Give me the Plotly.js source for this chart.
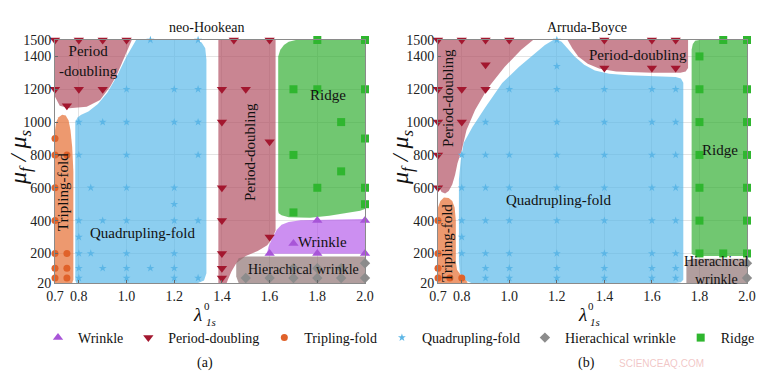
<!DOCTYPE html>
<html>
<head>
<meta charset="utf-8">
<script src="https://cdn.plot.ly/plotly-3.0.1.min.js"></script>
<style>html,body{margin:0;padding:0;background:#fff;}#chart{width:760px;height:381px;}</style>
</head>
<body>
<div id="chart"></div>
<script>
// ---------- axes ----------
const xTicks = [0.7, 0.8, 1.0, 1.2, 1.4, 1.6, 1.8, 2.0];
const xTickText = ['0.7', '0.8', '1.0', '1.2', '1.4', '1.6', '1.8', '2.0'];
const yTicks = [20, 200, 400, 600, 800, 1000, 1200, 1400, 1500];
const seriesNames = ['Wrinkle', 'Period-doubling', 'Tripling-fold', 'Quadrupling-fold', 'Hierachical wrinkle', 'Ridge'];
const panelTitles = ['neo-Hookean', 'Arruda-Boyce'];

// ---------- panel (a) neo-Hookean : markers ----------
const aWrinkleX = [1.6, 1.7, 1.8, 1.8, 2.0, 2.0];
const aWrinkleY = [200, 260, 400, 200, 400, 200];
const aPeriodX = [0.7, 0.8, 0.9, 1.0, 0.7, 0.8, 0.9, 0.75, 1.45, 1.6, 1.4, 1.5, 1.4, 1.6, 1.4, 1.4, 1.6, 1.4, 1.4, 1.4];
const aPeriodY = [1500, 1500, 1500, 1500, 1200, 1200, 1200, 1100, 1500, 1500, 1200, 1200, 1000, 880, 600, 400, 300, 200, 110, 50];
const aTriplingX = [0.7, 0.7, 0.75, 0.7, 0.7, 0.7, 0.75, 0.7, 0.75, 0.7, 0.75];
const aTriplingY = [900, 800, 800, 600, 400, 200, 200, 110, 110, 50, 50];
const aQuadX = [1.1, 1.3, 1.0, 1.2, 1.3, 0.8, 0.9, 1.0, 1.2, 1.3, 0.8, 1.0, 1.3, 0.85, 1.0, 1.2, 1.2,
                0.8, 0.9, 1.0, 1.2, 1.3, 0.8, 0.8, 0.85, 1.0, 1.2, 0.8, 0.9, 1.0, 1.1, 1.2, 0.8, 1.0, 1.2, 1.3];
const aQuadY = [1500, 1500, 1200, 1200, 1200, 1000, 1000, 1000, 1000, 1000, 800, 800, 800, 600, 600, 600, 500,
                400, 400, 400, 400, 400, 300, 200, 200, 200, 200, 110, 110, 110, 110, 110, 50, 50, 50, 50];
const aHierX = [1.5, 1.6, 1.7, 1.8, 1.9, 2.0, 1.7, 1.8, 1.9, 2.0];
const aHierY = [50, 50, 50, 50, 50, 50, 110, 110, 110, 140];
const aRidgeX = [1.8, 2.0, 1.7, 1.8, 2.0, 1.9, 2.0, 1.7, 1.9, 1.8, 2.0, 2.0, 1.7];
const aRidgeY = [1500, 1500, 1200, 1200, 1200, 1000, 900, 800, 700, 600, 600, 500, 450];

// ---------- panel (a) : region outlines (data units) ----------
const aRegPD1X = [0.7, 1.022, 0.986, 0.959, 0.931, 0.889, 0.833, 0.76, 0.72, 0.7];
const aRegPD1Y = [1500, 1500, 1378, 1287, 1216, 1135, 1094, 1084, 1100, 1155];
const aRegQX = [0.79, 0.785, 0.785, 0.795, 0.81, 0.84, 0.88, 0.92, 0.96, 1.0, 1.04, 1.29, 1.315, 1.33, 1.335, 1.335, 1.325, 1.3];
const aRegQY = [20, 35, 1000, 1030, 1045, 1065, 1110, 1180, 1280, 1400, 1500, 1500, 1485, 1450, 1380, 80, 35, 20];
const aRegTX = [0.7, 0.7, 0.705, 0.715, 0.73, 0.745, 0.757, 0.765, 0.772, 0.777, 0.777, 0.772];
const aRegTY = [20, 950, 1000, 1030, 1045, 1040, 1010, 950, 850, 700, 40, 20];
const aRegPD2X = [1.385, 1.385, 1.625, 1.625, 1.61, 1.59, 1.55, 1.5, 1.46, 1.44, 1.425, 1.42];
const aRegPD2Y = [20, 1500, 1500, 340, 290, 250, 215, 185, 140, 90, 40, 20];
const aRegRX = [1.636, 1.636, 1.645, 1.66, 1.68, 1.71, 2.0, 2.0, 1.98, 1.92, 1.85, 1.77, 1.68, 1.65, 1.638];
const aRegRY = [460, 1400, 1440, 1470, 1490, 1500, 1500, 470, 460, 445, 430, 418, 420, 432, 445];
const aRegWX = [1.59, 1.595, 1.61, 1.63, 1.65, 1.68, 1.73, 2.0, 2.0, 1.62];
const aRegWY = [205, 240, 290, 345, 375, 392, 402, 410, 198, 198];
const aRegHX = [1.47, 1.46, 1.46, 1.47, 1.5, 2.0, 2.0];
const aRegHY = [20, 60, 140, 170, 182, 182, 20];

// ---------- panel (b) Arruda-Boyce : markers ----------
const bWrinkleX = [];
const bWrinkleY = [];
const bPeriodX = [0.7, 0.8, 0.9, 1.0, 0.9, 0.7, 0.8, 0.9, 0.7, 0.8, 0.7, 0.7, 1.4, 1.6, 1.7, 1.4, 1.6, 1.7];
const bPeriodY = [1500, 1500, 1500, 1500, 1350, 1200, 1200, 1200, 1000, 1000, 800, 600, 1500, 1500, 1500, 1330, 1330, 1330];
const bTriplingX = [0.7, 0.7, 0.7, 0.7, 0.75, 0.8];
const bTriplingY = [400, 200, 110, 50, 50, 50];
const bQuadX = [1.2, 1.2,
                1.0, 1.2, 1.4, 1.6, 1.7,
                0.9, 1.2, 1.4, 1.6, 1.7,
                0.8, 0.9, 1.0, 1.2, 1.4, 1.6, 1.7,
                0.8, 0.9, 1.0, 1.2, 1.4, 1.6, 1.7,
                0.8, 0.9, 1.0, 1.2, 1.4, 1.6, 1.7,
                0.8,
                0.8, 0.9, 1.0, 1.2, 1.4, 1.6, 1.7,
                0.9, 1.0, 1.2, 1.4, 1.6, 1.7,
                0.9, 1.0, 1.2, 1.4, 1.6, 1.7];
const bQuadY = [1500, 1340,
                1200, 1200, 1200, 1200, 1200,
                1000, 1000, 1000, 1000, 1000,
                800, 800, 800, 800, 800, 800, 800,
                600, 600, 600, 600, 600, 600, 600,
                400, 400, 400, 400, 400, 400, 400,
                300,
                200, 200, 200, 200, 200, 200, 200,
                110, 110, 110, 110, 110, 110,
                50, 50, 50, 50, 50, 50];
const bHierX = [2.0, 2.0];
const bHierY = [140, 50];
const bRidgeX = [1.9, 2.0, 1.8, 1.8, 2.0, 1.8, 2.0, 1.8, 2.0, 1.8, 2.0, 1.8, 2.0, 1.8, 1.9, 2.0];
const bRidgeY = [1500, 1500, 1400, 1200, 1200, 1000, 1000, 800, 800, 600, 600, 400, 400, 200, 200, 200];

// ---------- panel (b) : region outlines ----------
const bRegPD1X = [0.7, 1.1, 1.05, 0.98, 0.91, 0.856, 0.82, 0.8, 0.782, 0.772, 0.76, 0.745, 0.73, 0.715, 0.705, 0.7];
const bRegPD1Y = [1500, 1500, 1440, 1336, 1208, 1074, 952, 830, 750, 680, 620, 580, 565, 575, 600, 620];
const bRegQX = [0.84, 0.81, 0.792, 0.788, 0.788, 0.796, 0.808, 0.845, 0.9, 0.97, 1.04, 1.11, 1.15, 1.185, 1.205, 1.22, 1.245, 1.275, 1.315, 1.36, 1.42, 1.5, 1.7, 1.722, 1.732, 1.732, 1.722, 1.7];
const bRegQY = [20, 40, 80, 150, 650, 770, 873, 970, 1092, 1238, 1336, 1420, 1470, 1500, 1500, 1490, 1450, 1400, 1350, 1315, 1295, 1285, 1275, 1265, 1240, 40, 25, 20];
const bRegPD2X = [1.245, 1.752, 1.752, 1.742, 1.72, 1.6, 1.45, 1.38, 1.33, 1.29, 1.265];
const bRegPD2Y = [1500, 1500, 1330, 1308, 1300, 1300, 1308, 1325, 1355, 1400, 1450];
const bRegTX = [0.7, 0.7, 0.71, 0.725, 0.745, 0.76, 0.77, 0.775, 0.775, 0.78, 0.795, 0.815, 0.825, 0.82];
const bRegTY = [20, 480, 520, 540, 538, 520, 480, 400, 150, 100, 70, 40, 25, 20];
const bRegRX = [1.767, 1.767, 1.772, 1.782, 1.8, 2.0, 2.0, 1.79, 1.772];
const bRegRY = [200, 1440, 1475, 1495, 1500, 1500, 185, 185, 192];
const bRegHX = [1.745, 1.745, 1.755, 1.77, 2.0, 2.0];
const bRegHY = [20, 145, 160, 167, 167, 20];

// ---------- styles ----------
const fillCol = {
  pd: 'rgba(175,75,95,0.68)', quad: 'rgba(80,180,232,0.66)', trip: 'rgba(230,110,50,0.7)',
  ridge: 'rgba(40,170,40,0.66)', wrinkle: 'rgba(180,90,235,0.68)', hier: 'rgba(140,112,112,0.68)'
};
const markCol = {
  wrinkle: '#a855d8', pd: '#a3172f', trip: '#e0622a', quad: '#5cb6e6', hier: '#8c8c8c', ridge: '#2fb62f'
};
const FONT = 'Liberation Serif, Times New Roman, serif';

function region(x, y, color, ax) {
  return { x: x, y: y, xaxis: ax[0], yaxis: ax[1], type: 'scatter', mode: 'lines', fill: 'toself',
    fillcolor: color, line: { width: 0, color: 'rgba(0,0,0,0)' }, showlegend: false, hoverinfo: 'skip' };
}
function pts(x, y, name, symbol, color, size, ax, show) {
  return { x: x, y: y, xaxis: ax[0], yaxis: ax[1], type: 'scatter', mode: 'markers', name: name,
    legendgroup: name, showlegend: show, cliponaxis: false,
    marker: { symbol: symbol, color: color, size: size, line: { width: 0 } } };
}

const A = ['x', 'y'], B = ['x2', 'y2'];
const traces = [
  region(aRegPD1X, aRegPD1Y, fillCol.pd, A),
  region(aRegQX, aRegQY, fillCol.quad, A),
  region(aRegTX, aRegTY, fillCol.trip, A),
  region(aRegPD2X, aRegPD2Y, fillCol.pd, A),
  region(aRegRX, aRegRY, fillCol.ridge, A),
  region(aRegWX, aRegWY, fillCol.wrinkle, A),
  region(aRegHX, aRegHY, fillCol.hier, A),
  region(bRegPD1X, bRegPD1Y, fillCol.pd, B),
  region(bRegQX, bRegQY, fillCol.quad, B),
  region(bRegPD2X, bRegPD2Y, fillCol.pd, B),
  region(bRegTX, bRegTY, fillCol.trip, B),
  region(bRegRX, bRegRY, fillCol.ridge, B),
  region(bRegHX, bRegHY, fillCol.hier, B),

  pts(aWrinkleX, aWrinkleY, seriesNames[0], 'triangle-up', markCol.wrinkle, 9, A, true),
  pts(aPeriodX, aPeriodY, seriesNames[1], 'triangle-down', markCol.pd, 9, A, true),
  pts(aTriplingX, aTriplingY, seriesNames[2], 'circle', markCol.trip, 7, A, true),
  pts(aQuadX, aQuadY, seriesNames[3], 'star', markCol.quad, 6, A, true),
  pts(aHierX, aHierY, seriesNames[4], 'diamond', markCol.hier, 8, A, true),
  pts(aRidgeX, aRidgeY, seriesNames[5], 'square', markCol.ridge, 8, A, true),

  pts(bWrinkleX, bWrinkleY, seriesNames[0], 'triangle-up', markCol.wrinkle, 9, B, false),
  pts(bPeriodX, bPeriodY, seriesNames[1], 'triangle-down', markCol.pd, 9, B, false),
  pts(bTriplingX, bTriplingY, seriesNames[2], 'circle', markCol.trip, 7, B, false),
  pts(bQuadX, bQuadY, seriesNames[3], 'star', markCol.quad, 6, B, false),
  pts(bHierX, bHierY, seriesNames[4], 'diamond', markCol.hier, 8, B, false),
  pts(bRidgeX, bRidgeY, seriesNames[5], 'square', markCol.ridge, 8, B, false)
];

function xax(domain, anchor) {
  return { domain: domain, anchor: anchor, range: [0.7, 2.0], tickmode: 'array', tickvals: xTicks, ticktext: xTickText,
    showgrid: true, gridcolor: '#e4e4e4', gridwidth: 1, zeroline: false, showline: true, linecolor: '#8a8a8a',
    mirror: true, ticks: 'inside', ticklen: 3, tickcolor: '#666', tickfont: { family: FONT, size: 14, color: '#222' } };
}
function yax(anchor) {
  return { domain: [0, 1], anchor: anchor, range: [20, 1500], tickmode: 'array', tickvals: yTicks,
    showgrid: true, gridcolor: '#e4e4e4', gridwidth: 1, zeroline: false, showline: true, linecolor: '#8a8a8a',
    mirror: true, ticks: 'inside', ticklen: 3, tickcolor: '#666', tickfont: { family: FONT, size: 14, color: '#222' } };
}

const lab = (x, y, xref, yref, text, size, angle, anchor) => ({
  x: x, y: y, xref: xref, yref: yref, text: text, showarrow: false, textangle: angle || 0,
  xanchor: anchor || 'center', yanchor: 'middle', font: { family: FONT, size: size, color: '#111' }
});
const py = p => (283 - p) / 243;   // page pixel row -> paper y
const px = p => p / 760;           // page pixel column -> paper x

const annotations = [
  // panel titles
  lab(0.272, 1.05, 'paper', 'paper', panelTitles[0], 14),
  lab(0.772, 1.05, 'paper', 'paper', panelTitles[1], 14),
  // region labels (a)
  lab(0.71, 1372, 'x', 'y', 'Period<br>-doubling', 15, 0, 'left'),
  lab(0.734, 574, 'x', 'y', 'Tripling-fold', 15, -90),
  lab(1.069, 325, 'x', 'y', 'Quadrupling-fold', 15),
  lab(1.518, 818, 'x', 'y', 'Period-doubling', 15, -90),
  lab(1.845, 1165, 'x', 'y', 'Ridge', 15),
  lab(1.82, 270, 'x', 'y', 'Wrinkle', 15),
  lab(1.74, 105, 'x', 'y', 'Hierachical wrinkle', 14),
  // region labels (b)
  lab(0.742, 1147, 'x2', 'y2', 'Period-doubling', 15, -90),
  lab(1.541, 1409, 'x2', 'y2', 'Period-doubling', 15),
  lab(1.205, 526, 'x2', 'y2', 'Quadrupling-fold', 15),
  lab(1.886, 830, 'x2', 'y2', 'Ridge', 15),
  lab(0.738, 264, 'x2', 'y2', 'Tripling-fold', 15, -90),
  lab(1.728, 99, 'x2', 'y2', 'Hierachical<br>wrinkle', 14, 0, 'left'),
  // axis titles (a)
  lab(px(20), py(158), 'paper', 'paper', '<i>μ<sub>f</sub> / μ<sub>s</sub></i>', 24, -90),
  lab(px(198), py(314), 'paper', 'paper', '<i>λ</i>', 19),
  lab(px(207), py(306), 'paper', 'paper', '0', 11),
  lab(px(211), py(322), 'paper', 'paper', '<i>1s</i>', 11),
  // axis titles (b)
  lab(px(402), py(158), 'paper', 'paper', '<i>μ<sub>f</sub> / μ<sub>s</sub></i>', 24, -90),
  lab(px(582), py(314), 'paper', 'paper', '<i>λ</i>', 19),
  lab(px(591), py(306), 'paper', 'paper', '0', 11),
  lab(px(595), py(322), 'paper', 'paper', '<i>1s</i>', 11),
  // sub-figure labels
  lab(px(205), py(363), 'paper', 'paper', '(a)', 14),
  lab(px(586), py(363), 'paper', 'paper', '(b)', 14),
  // watermark
  { x: px(706), y: py(371), xref: 'paper', yref: 'paper', text: 'SCIENCEAQ.COM', showarrow: false,
    font: { family: 'Liberation Sans, Arial, sans-serif', size: 10, color: 'rgba(230,150,150,0.55)' } }
];

const layout = {
  width: 760, height: 381,
  margin: { l: 0, r: 0, t: 40, b: 98, pad: 0 },
  paper_bgcolor: '#fff', plot_bgcolor: '#fff',
  font: { family: FONT, size: 14, color: '#222' },
  xaxis: xax([55 / 760, 365 / 760], 'y'),
  yaxis: yax('x'),
  xaxis2: xax([438 / 760, 747 / 760], 'y2'),
  yaxis2: yax('x2'),
  showlegend: true,
  legend: { orientation: 'h', x: px(60), xanchor: 'left', y: py(338), yanchor: 'middle',
    font: { family: FONT, size: 14, color: '#111' }, bgcolor: 'rgba(0,0,0,0)', itemsizing: 'trace', tracegroupgap: 0 },
  annotations: annotations
};

Plotly.newPlot('chart', traces, layout, { displayModeBar: false, staticPlot: true });
</script>
</body>
</html>
